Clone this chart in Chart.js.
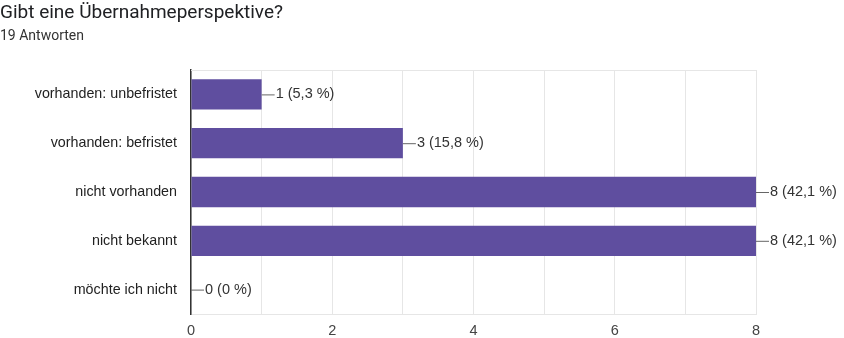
<!DOCTYPE html>
<html>
<head>
<meta charset="utf-8">
<script src="https://cdn.jsdelivr.net/npm/chart.js@4.4.1/dist/chart.umd.min.js"></script>
<style>
  html, body { margin: 0; padding: 0; background: #fff; }
  #wrap { position: relative; width: 844px; height: 338px; }
  #title { position: absolute; left: 0; top: 0; font: 19px Roboto, sans-serif; line-height: 23px; color: #202124; }
  #subtitle { position: absolute; left: 0; top: 27px; font: 14px Roboto, sans-serif; line-height: 17px; color: #333; }
</style>
</head>
<body>
<div id="wrap">
  <canvas id="my_chart" width="844" height="338"></canvas>
  <div id="title">Gibt eine Übernahmeperspektive?</div>
  <div id="subtitle">19 Antworten</div>
</div>
<script>
const categories = ['vorhanden: unbefristet', 'vorhanden: befristet', 'nicht vorhanden', 'nicht bekannt', 'möchte ich nicht'];
const counts = [1, 3, 8, 8, 0];
const percents = ['5,3', '15,8', '42,1', '42,1', '0'];
const x_ticks = [0, 2, 4, 6, 8];

// leader line + "n (p %)" next to each bar
const value_labels = {
    id: 'value_labels',
    afterDatasetsDraw(chart) {
        const ctx = chart.ctx;
        const meta = chart.getDatasetMeta(0);
        ctx.save();
        ctx.font = '14.5px "Liberation Sans", Arial, sans-serif';
        ctx.textBaseline = 'middle';
        meta.data.forEach((bar, i) => {
            const x = bar.x;
            const y = bar.y;
            ctx.strokeStyle = '#666';
            ctx.lineWidth = 1;
            ctx.beginPath();
            ctx.moveTo(x, y + 0.5);
            ctx.lineTo(x + 13, y + 0.5);
            ctx.stroke();
            ctx.fillStyle = '#333';
            ctx.fillText(`${counts[i]} (${percents[i]} %)`, x + 14, y);
        });
        ctx.restore();
    }
};

// thin frame line along the top of the plot
const top_line = {
    id: 'top_line',
    beforeDatasetsDraw(chart) {
        const a = chart.chartArea;
        const ctx = chart.ctx;
        ctx.save();
        ctx.strokeStyle = '#e6e6e6';
        ctx.lineWidth = 1;
        ctx.beginPath();
        ctx.moveTo(a.left, a.top + 0.5);
        ctx.lineTo(a.right, a.top + 0.5);
        ctx.stroke();
        ctx.restore();
    }
};

const ctx = document.getElementById('my_chart').getContext('2d');
new Chart(ctx, {
    type: 'bar',
    data: {
        labels: categories,
        datasets: [{
            data: counts,
            backgroundColor: '#5f4e9f',
            borderWidth: 0,
            categoryPercentage: 1,
            barPercentage: 0.62
        }]
    },
    plugins: [value_labels, top_line],
    options: {
        indexAxis: 'y',
        responsive: false,
        animation: false,
        layout: { padding: { top: 70, right: 88, left: 0, bottom: 0 } },
        plugins: {
            legend: { display: false },
            tooltip: { enabled: false }
        },
        scales: {
            x: {
                min: 0,
                max: 8,
                ticks: {
                    stepSize: 1,
                    padding: 8,
                    color: '#444',
                    font: { family: '"Liberation Sans", Arial, sans-serif', size: 14.5 },
                    callback: v => x_ticks.includes(v) ? v : ''
                },
                grid: { color: '#e6e6e6', drawTicks: false },
                border: { display: true, color: '#e6e6e6' },
                afterFit: s => { s.height = 24; }
            },
            y: {
                ticks: {
                    padding: 14,
                    color: '#222',
                    font: { family: '"Liberation Sans", Arial, sans-serif', size: 14.3 }
                },
                grid: { display: false, drawTicks: false },
                border: { display: true, color: '#333', width: 1.5 },
                afterFit: s => { s.width = 191; }
            }
        }
    }
});
</script>
</body>
</html>
